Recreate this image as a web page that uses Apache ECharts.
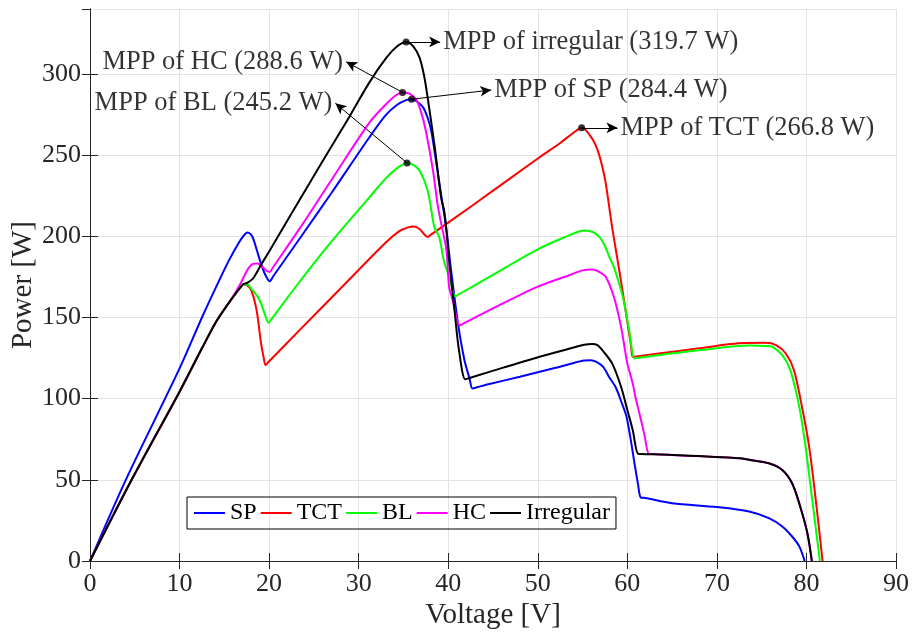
<!DOCTYPE html>
<html>
<head>
<meta charset="utf-8">
<script src="https://cdn.jsdelivr.net/npm/echarts@6/dist/echarts.min.js"></script>
<style>
html, body { margin: 0; padding: 0; background: #fff; }
#chart { width: 912px; height: 635px; }
</style>
</head>
<body>
<div id="chart"></div>
<script>
// P-V curves, [voltage V, power W]
var sp = [
  [0,0],[4,50],[10,118.6],[12.5,150],[14.1,169],[15.5,185],[16.5,195],[17.1,200],[17.6,202.3],[18.1,200],
  [18.6,192],[19.1,183],[19.6,176],[20.07,172.3],[20.5,175.7],[23.4,198.5],[27,227],[31.2,261],[33,274.5],
  [34.3,281],[35.3,283.9],[35.9,284.4],[36.5,283],[37.2,279.4],[37.7,273],[38.1,265],[38.65,246],
  [39.2,226],[39.8,204],[40.3,180],[41.1,146],[41.8,124],[42.4,112],[42.7,106.3],[43.2,107],[44.6,109],[48,113.5],
  [52,119],[54,122],[55.2,123.5],[55.9,123.7],[56.6,122.5],[57.3,119.5],[58,113],[58.7,107],
  [59.4,97],[59.9,89],[60.4,74],[60.8,60.2],[61.2,47],[61.5,39.1],[62,38.8],[65,35.6],[70,33.2],[73.6,30.5],
  [75.8,26.4],[77.3,21.3],[78.4,15.1],[79.2,9],[79.8,0]
];
var tct = [
  [0,0],[4.65,50],[10,104.3],[12.5,131],[14.1,147.5],[15.5,159],[16.3,165],[16.8,168.5],[17.1,170.4],[17.5,170],
  [18.0,166.8],[18.6,154.5],[19.1,134],[19.4,125],[19.6,120.7],[19.9,122.4],[23.4,142.2],[28,168],[33,196],
  [34.5,203],[35.5,205.5],[36.2,206.1],[36.8,204.5],[37.2,202],[37.7,199.5],[38,200.7],[42.7,219],[47,236],
  [50.2,248.7],[52.5,257.5],[53.8,263],[54.5,265.8],[54.9,266.8],[55.3,265.8],[55.7,263],[56.2,259],
  [56.7,252.8],[57.2,243],[57.6,232.3],[58.3,205.7],[59.1,179],[59.8,154.5],[60.4,133],[60.6,125.8],[61,126],[63.5,127.8],
  [68,131],[72.5,134.1],[75.4,134.4],[76.6,133],[77.7,127.8],[78.6,117.6],[79.5,95],[80.3,70.4],
  [81.0,39.7],[81.8,0]
];
var bl = [
  [0,0],[4.65,50],[10,104.3],[12.5,131],[14.1,147.5],[15.5,159],[16.3,165],[16.8,168.5],[17.1,170.4],[17.6,170.3],
  [18.0,167.8],[18.5,164.5],[18.95,160.6],[19.5,152.4],[19.95,146.7],[20.3,149.3],[23.4,172],[27,197],[31.2,224],
  [33,235.5],[34.3,242],[35.4,245.2],[36.1,244],[36.8,240.5],[37.7,228.2],[38.3,209.8],[38.5,205],
  [39.0,199.5],[39.5,185.2],[40.1,175],[40.8,163],[41.2,164.3],[44.6,175],[50,192],[53.5,200.6],[54.6,203],
  [55.4,203.6],[56.2,202.5],[56.9,199.5],[57.5,194],[58.0,187.2],[58.5,181],[59.5,162.6],[60.2,142.2],
  [60.8,124.8],[61.1,125],[63.5,126.8],[68,129.8],[73.6,132.8],[75.5,132.5],[76.2,131.9],[77.3,126.8],[78.2,117.6],
  [79.2,95],[79.9,70.4],[80.6,39.7],[81.5,0]
];
var hc = [
  [0,0],[4.65,50],[10,104.3],[12.5,131],[14.1,147.5],[15.5,159],[16.3,166],[17.0,173],[17.6,179.5],[18.2,183],
  [18.7,183.3],[19.2,181.5],[19.7,178.8],[20.07,178],[20.4,180.6],[23.4,204.7],[27,235],[31.2,270],[33,281],
  [34.2,287],[34.9,288.6],[35.6,288],[36.4,284.6],[37.0,276],[37.5,265],[38.3,240.5],[38.8,220],
  [39.1,211],[39.8,191.3],[40.1,168.8],[40.5,160.6],[41.3,145.2],[41.7,146.3],[44.6,154.5],[50,169],[53.5,176],
  [55,179],[56.1,179.6],[56.9,178],[57.6,175],[58.5,162.6],[59.3,144.2],[60.0,121.7],[60.6,109.4],
  [60.9,101.2],[61.3,92],[61.9,78],[62.4,66],[62.8,65.9],[65,65.3],[72.5,63.3],[73.6,62.3],[75.8,60.2],
  [77.3,56.1],[78.4,47.9],[79.3,33.6],[80.1,17.2],[80.6,0]
];
var irregular = [
  [0,0],[4.65,50],[10,104.3],[12.5,131],[14.1,147.5],[15.5,159],[16.3,165],[16.8,168.5],[17.1,170.4],[17.6,171.5],
  [18.2,174],[19,181.5],[20.07,191.3],[22.5,214],[26,246.5],[29,274],[31.2,294.8],[33.1,310],
  [34.3,317],[35.3,319.7],[36.1,317],[36.8,310],[37.3,299],[37.7,285.6],[38.5,254.8],[39.2,224],
  [39.6,214],[40.1,185.2],[40.7,154.5],[41.2,129.9],[41.9,111.9],[42.3,112.6],[44.6,116.5],[50.2,125.8],[54,131.5],
  [55.2,133.2],[56.1,133.6],[56.7,132.8],[57.2,129.9],[58.3,121.7],[59.3,107.3],[60.0,93],[60.6,80.7],
  [61.2,66],[61.6,65.9],[65,65.3],[72.5,63.3],[73.6,62.3],[75.8,60.2],[77.3,56.1],[78.4,47.9],[79.3,33.6],
  [80.1,17.2],[80.6,0]
];

// maximum power points and where their arrows point to
var mppNames = ['irregular', 'HC', 'BL', 'SP', 'TCT'];
var mppVolt = [35.3, 34.9, 35.4, 35.9, 54.9];
var mppPower = [319.7, 288.6, 245.2, 284.4, 266.8];
var arrowVolt = [39.1, 28.6, 27.4, 44.8, 58.9];
var arrowPower = [319.7, 307.5, 281.9, 290.1, 266.8];
var labelSide = ['right', 'left', 'left', 'right', 'right'];

var xTicks = { min: 0, max: 90, step: 10 };
var yTicks = { min: 0, max: 340, step: 50 };

var chart = echarts.init(document.getElementById('chart'));
var font = 'Liberation Serif';
var axisGray = '#262626';

var arrowLines = [], labelData = [];
for (var i = 0; i < mppNames.length; i++) {
  arrowLines.push([
    { coord: [mppVolt[i], mppPower[i]], symbol: 'none' },
    { coord: [arrowVolt[i], arrowPower[i]], symbol: 'arrow' }
  ]);
  labelData.push({
    value: [arrowVolt[i], arrowPower[i]],
    label: { position: labelSide[i] },
    text: 'MPP of ' + mppNames[i] + ' (' + mppPower[i].toFixed(1) + ' W)'
  });
}

function curve(name, color, data) {
  return {
    name: name, type: 'line', data: data, symbol: 'none', smooth: 0.3,
    lineStyle: { color: color, width: 2 }, itemStyle: { color: color }
  };
}

var option = {
  animation: false,
  grid: { left: 90, right: 16, top: 9, bottom: 74, containLabel: false, outerBoundsMode: 'none' },
  legend: {
    left: 187, top: 497,
    data: ['SP', 'TCT', 'BL', 'HC', 'Irregular'],
    icon: 'rect', itemWidth: 31, itemHeight: 2, itemGap: 4,
    padding: [4, 6, 4, 7],
    borderColor: '#000', borderWidth: 1,
    textStyle: { fontFamily: font, fontSize: 24, color: '#000' }
  },
  xAxis: [{
    type: 'value', min: xTicks.min, max: xTicks.max, interval: xTicks.step,
    name: 'Voltage [V]', nameLocation: 'middle', nameGap: 40, nameMoveOverlap: false,
    nameTextStyle: { fontFamily: font, fontSize: 29, color: axisGray },
    axisLine: { lineStyle: { color: axisGray } },
    axisTick: { inside: true, length: 8, lineStyle: { color: axisGray } },
    axisLabel: { fontFamily: font, fontSize: 26, color: axisGray, margin: 10 },
    splitLine: { show: true, lineStyle: { color: '#e3e3e3' } }
  }, {
    type: 'value', position: 'top', min: xTicks.min, max: xTicks.max, interval: xTicks.step,
    axisLine: { show: true, lineStyle: { color: axisGray } },
    axisTick: { inside: true, length: 8, lineStyle: { color: axisGray } },
    axisLabel: { show: false }, splitLine: { show: false }
  }],
  yAxis: [{
    type: 'value', min: yTicks.min, max: yTicks.max, interval: yTicks.step,
    name: 'Power [W]', nameLocation: 'middle', nameGap: 52, nameMoveOverlap: false,
    nameTextStyle: { fontFamily: font, fontSize: 29, color: axisGray },
    axisLine: { show: true, lineStyle: { color: axisGray } },
    axisTick: { show: true, inside: true, length: 8, lineStyle: { color: axisGray } },
    axisLabel: { fontFamily: font, fontSize: 26, color: axisGray, margin: 9, showMaxLabel: false },
    splitLine: { show: true, lineStyle: { color: '#e3e3e3' } }
  }, {
    type: 'value', position: 'right', min: yTicks.min, max: yTicks.max, interval: yTicks.step,
    axisLine: { show: true, lineStyle: { color: axisGray } },
    axisTick: { show: true, inside: true, length: 8, lineStyle: { color: axisGray } },
    axisLabel: { show: false }, splitLine: { show: false }
  }],
  series: [
    curve('SP', '#0000ff', sp),
    curve('TCT', '#ff0000', tct),
    curve('BL', '#00ff00', bl),
    curve('HC', '#ff00ff', hc),
    curve('Irregular', '#000000', irregular),
    {
      name: 'arrows', type: 'line', data: [], symbol: 'none',
      markLine: {
        silent: true, symbolSize: [8, 11],
        label: { show: false },
        lineStyle: { color: '#000', width: 1, type: 'solid' },
        data: arrowLines
      }
    },
    {
      name: 'mpp', type: 'scatter', symbolSize: 7, z: 5,
      itemStyle: { color: '#000' },
      data: mppVolt.map(function (v, i) { return [v, mppPower[i]]; })
    },
    {
      name: 'mppText', type: 'scatter', symbolSize: 0, z: 5,
      data: labelData,
      label: {
        show: true, distance: 3,
        fontFamily: font, fontSize: 26.5, color: '#000',
        formatter: function (p) { return p.data.text; }
      }
    }
  ]
};

chart.setOption(option);
</script>
</body>
</html>
